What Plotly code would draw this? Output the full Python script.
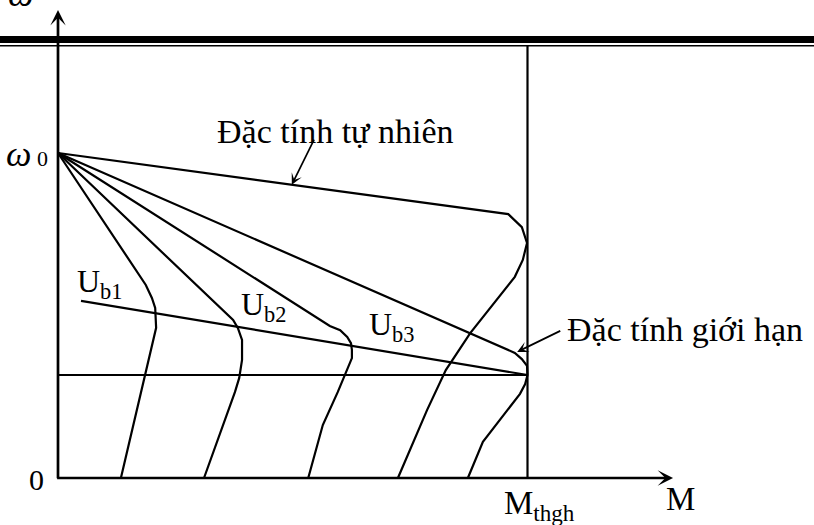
import plotly.graph_objects as go

# ---- data (normalised units: torque M in % of M_thgh, speed w in % of w0) ----
nat_M = [0, 95.9, 98.8, 99.9, 99.0, 97.3, 87.8, 82.6, 78.6, 72.4]
nat_w = [100, 81.2, 77.2, 72.3, 67.1, 61.9, 44.6, 33.2, 20.9, 0]

lim_M = [0, 97.3, 98.8, 99.9, 100, 99.5, 98.4, 90.5, 87.3]
lim_w = [100, 38.5, 36.6, 34.5, 31.7, 28.9, 25.9, 11.1, 0]

ub3_M = [0, 57.9, 60.1, 61.6, 62.4, 62.6, 62.6, 61.3, 59.6, 56.4, 53.3]
ub3_w = [100, 46.8, 45.5, 43.4, 41.5, 39.4, 36.9, 32.3, 26.5, 16.3, 0]

ub2_M = [0, 35.6, 37.3, 38.3, 39.2, 39.2, 38.6, 37.7, 34.7, 31.1]
ub2_w = [100, 51.1, 48.6, 46.2, 42.5, 36.3, 30.8, 26.5, 14.2, 0]

ub1_M = [0, 18.7, 20.0, 20.7, 20.9, 19.8, 13.4]
ub1_w = [100, 59.4, 55.4, 52.3, 46.2, 39.4, 0]

ub_line_M = [4.9, 100]
ub_line_w = [54.5, 31.7]

M_thgh = 100
w_gh = 31.7
w_top = 133.2
x_axis_end = 131.0
y_axis_end = 144.0

FONT = "Liberation Serif"
fig = go.Figure()

curves = [(nat_M, nat_w), (lim_M, lim_w), (ub3_M, ub3_w), (ub2_M, ub2_w),
          (ub1_M, ub1_w), (ub_line_M, ub_line_w)]
for mx, wy in curves:
    fig.add_trace(go.Scatter(x=mx, y=wy, mode="lines",
                             line=dict(color="black", width=2.2),
                             hoverinfo="skip", showlegend=False))

# horizontal limit-speed line and vertical M_thgh line
fig.add_trace(go.Scatter(x=[0, M_thgh], y=[w_gh, w_gh], mode="lines",
                         line=dict(color="black", width=2), hoverinfo="skip", showlegend=False))
fig.add_trace(go.Scatter(x=[M_thgh, M_thgh], y=[0, w_top], mode="lines",
                         line=dict(color="black", width=2.2), hoverinfo="skip", showlegend=False))

# axes with arrows
arrow_common = dict(xref="x", yref="y", axref="x", ayref="y", text="", showarrow=True,
                    arrowcolor="black", standoff=0, startstandoff=0)
fig.add_annotation(x=0, y=y_axis_end, ax=0, ay=-0.5, arrowhead=3, arrowwidth=2.7,
                   arrowsize=0.95, **arrow_common)
fig.add_annotation(x=x_axis_end, y=0, ax=-0.5, ay=0, arrowhead=3, arrowwidth=2.7,
                   arrowsize=0.95, **arrow_common)

# pointer arrows
fig.add_annotation(x=49.8, y=90.2, ax=54.7, ay=104.6, arrowhead=3, arrowwidth=1.7,
                   arrowsize=1.1, **arrow_common)
fig.add_annotation(x=97.8, y=38.8, ax=107.3, ay=45.5, arrowhead=3, arrowwidth=1.7,
                   arrowsize=1.1, **arrow_common)

def label(text, x, y, size, xanchor="center", xref="x", yref="y", italic=False):
    fig.add_annotation(x=x, y=y, xref=xref, yref=yref, text=text, showarrow=False,
                       xanchor=xanchor, yanchor="middle",
                       font=dict(family=FONT, size=size, color="black",
                                 style="italic" if italic else "normal"))

label("Đặc tính tự nhiên", 59.2, 106.6, 34)
label("Đặc tính giới hạn", 108.0, 45.8, 34, xanchor="left")
label("U<sub style='font-size:21px'>b1</sub>", 3.6, 59.9, 32, xanchor="left")
label("U<sub style='font-size:21px'>b2</sub>", 38.5, 52.8, 32, xanchor="left")
label("U<sub style='font-size:21px'>b3</sub>", 65.8, 46.7, 32, xanchor="left")
label("M", 132.5, -6.5, 33)
label("M<sub style='font-size:19px'>thgh</sub>", 94.6, -8.5, 33, xanchor="left")
label("0", -4.6, -0.5, 30)
label("<i>ω</i><span style='font-size:22px'> 0</span>", -1.8, 99.8, 36, xanchor="right")
label("<i>ω</i>", 0.0246, 1.012, 36, xref="paper", yref="paper")

# header double rule
fig.add_shape(type="rect", xref="paper", yref="paper", x0=0, x1=1, y0=0.9181, y1=0.9314,
              fillcolor="black", line=dict(width=0))
fig.add_shape(type="rect", xref="paper", yref="paper", x0=0, x1=1, y0=0.9114, y1=0.9143,
              fillcolor="black", line=dict(width=0))

fig.update_layout(width=814, height=525, margin=dict(l=0, r=0, t=0, b=0),
                  paper_bgcolor="white", plot_bgcolor="white", hovermode=False,
                  showlegend=False)
fig.update_xaxes(range=[-12.3536, 161.023], visible=False, fixedrange=True)
fig.update_yaxes(range=[-14.4615, 147.077], visible=False, fixedrange=True)

fig.write_html("out.html", config={"displayModeBar": False},
               post_script="document.body.style.margin='0';document.body.style.overflow='hidden';")
